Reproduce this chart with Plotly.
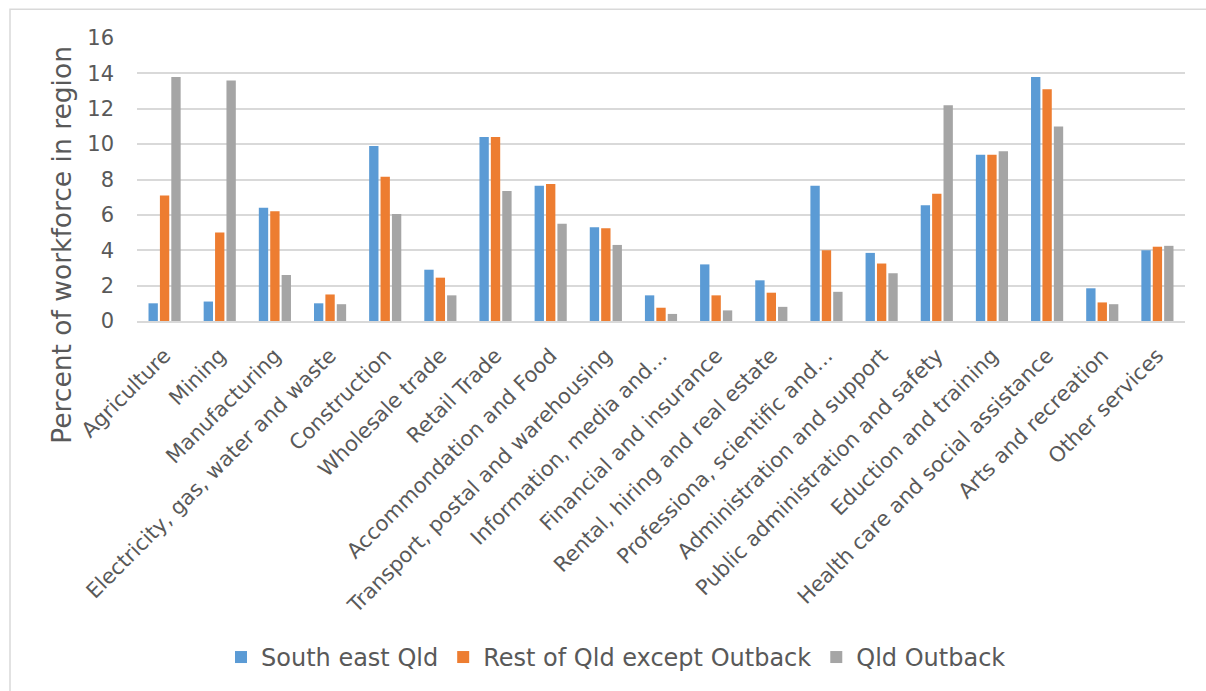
import plotly.graph_objects as go

# Industry categories along the x axis
industries = [
    "Agriculture", "Mining", "Manufacturing", "Electricity, gas, water and waste",
    "Construction", "Wholesale trade", "Retail Trade", "Accommondation and Food",
    "Transport, postal and warehousing", "Information, media and…",
    "Financial and insurance", "Rental, hiring and real estate",
    "Professiona, scientific and…", "Administration and support",
    "Public administration and safety", "Eduction and training",
    "Health care and social assistance", "Arts and recreation", "Other services",
]

# Percent of workforce in each region, by industry
south_east_qld = [1.0, 1.1, 6.4, 1.0, 9.9, 2.9, 10.4, 7.65, 5.3, 1.45, 3.2, 2.3,
                  7.65, 3.85, 6.55, 9.4, 13.8, 1.85, 4.0]
rest_of_qld = [7.1, 5.0, 6.2, 1.5, 8.15, 2.45, 10.4, 7.75, 5.25, 0.75, 1.45, 1.6,
               4.0, 3.25, 7.2, 9.4, 13.1, 1.05, 4.2]
qld_outback = [13.8, 13.6, 2.6, 0.95, 6.05, 1.45, 7.35, 5.5, 4.3, 0.4, 0.6, 0.8,
               1.65, 2.7, 12.2, 9.6, 11.0, 0.95, 4.25]

y_ticks = [0, 2, 4, 6, 8, 10, 12, 14, 16]

series = [
    ("South east Qld", south_east_qld, "#5B9BD5"),
    ("Rest of Qld except Outback", rest_of_qld, "#ED7D31"),
    ("Qld Outback", qld_outback, "#A5A5A5"),
]

FONT = "DejaVu Sans"
TEXT = "#595959"
GRID = "#D9D9D9"

fig = go.Figure()
for name, vals, color in series:
    fig.add_trace(go.Bar(
        x=industries, y=vals, name=name,
        marker=dict(color=color, line=dict(width=0)),
    ))

# plot area in pixels: x 137..1185, y 38..324
L, R, T, B = 137, 1185, 38, 324
W, H = R - L, B - T


def px_x(p):
    return (p - L) / W


def px_y(p):
    return (B - p) / H


fig.update_layout(
    width=1206, height=691,
    margin=dict(l=L, r=1206 - R, t=T, b=691 - B),
    paper_bgcolor="white", plot_bgcolor="white",
    barmode="group", bargap=0.38, bargroupgap=0.18,
    font=dict(family=FONT, color=TEXT),
    showlegend=True,
    legend=dict(
        orientation="h", x=px_x(616), y=px_y(664),
        xanchor="center", yanchor="middle",
        font=dict(family=FONT, size=24, color=TEXT),
        itemsizing="constant", traceorder="normal",
    ),
    xaxis=dict(
        tickangle=-45, tickfont=dict(family=FONT, size=21, color=TEXT),
        showline=True, linecolor=GRID, linewidth=2,
        showgrid=False, ticks="", automargin=False,
        ticklabelstandoff=12,
    ),
    yaxis=dict(
        range=[0, 16], tickvals=y_ticks,
        tickfont=dict(family=FONT, size=21, color=TEXT),
        showgrid=True, gridcolor=GRID, gridwidth=2,
        zeroline=False, showline=False, ticks="",
        ticklabelstandoff=22, automargin=False,
    ),
    annotations=[dict(
        text="Percent of workforce in region", textangle=-90,
        xref="paper", yref="paper", x=px_x(62), y=px_y(247),
        xanchor="center", yanchor="middle", showarrow=False,
        font=dict(family=FONT, size=26.5, color=TEXT),
    )],
    shapes=[dict(
        type="rect", xref="paper", yref="paper",
        x0=px_x(10), x1=px_x(1215), y0=px_y(700), y1=px_y(9),
        line=dict(color=GRID, width=1.5), fillcolor="rgba(0,0,0,0)", layer="below",
    )],
)

fig.write_html("out.html")
